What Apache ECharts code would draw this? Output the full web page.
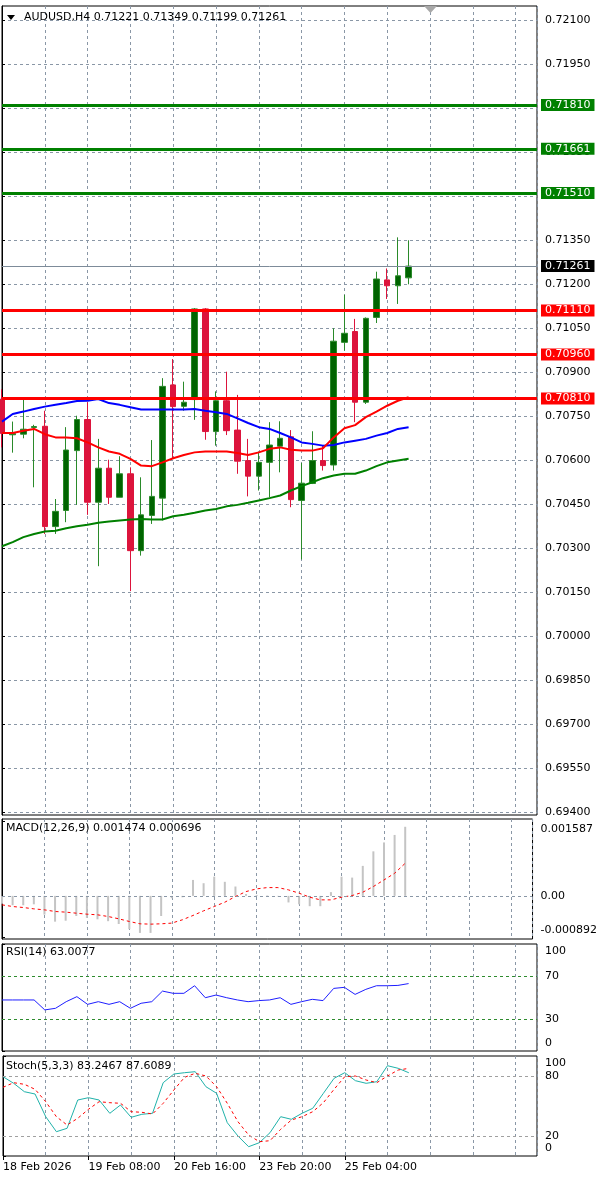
<!DOCTYPE html>
<html><head><meta charset="utf-8">
<script src="https://cdn.jsdelivr.net/npm/echarts@6/dist/echarts.min.js"></script>
<style>html,body{margin:0;padding:0;background:#fff}#c{width:600px;height:1181px}</style>
</head><body><div id="c"></div>
<script>
// ---------- data ----------
const symbolName = 'AUDUSD,H4';
const timeLabels = ['18 Feb 2026', '19 Feb 08:00', '20 Feb 16:00', '23 Feb 20:00', '25 Feb 04:00'];
const timeLabelBars = [0, 8, 16, 24, 32];

const opens  = [0.70807,0.70686,0.70688,0.70711,0.70715,0.70373,0.70428,0.70632,0.70738,0.70456,0.70572,0.70473,0.70553,0.70291,0.70411,0.70470,0.70856,0.70783,0.70806,0.71115,0.70697,0.70802,0.70702,0.70598,0.70545,0.70592,0.70647,0.70679,0.70462,0.70520,0.70598,0.70583,0.71001,0.71038,0.70797,0.71086,0.71214,0.71194,0.71221];
const highs  = [0.70841,0.70731,0.70805,0.70720,0.70768,0.70467,0.70712,0.70751,0.70797,0.70672,0.70601,0.70613,0.70575,0.70541,0.70668,0.70879,0.70944,0.70867,0.71118,0.71118,0.70834,0.70901,0.70822,0.70672,0.70629,0.70729,0.70732,0.70702,0.70590,0.70698,0.70649,0.71049,0.71163,0.71081,0.71086,0.71242,0.71253,0.71359,0.71349];
const lows   = [0.70643,0.70625,0.70674,0.70507,0.70348,0.70348,0.70388,0.70447,0.70413,0.70238,0.70450,0.70473,0.70153,0.70274,0.70382,0.70394,0.70604,0.70768,0.70737,0.70669,0.70649,0.70685,0.70553,0.70476,0.70496,0.70473,0.70558,0.70439,0.70261,0.70518,0.70564,0.70564,0.70973,0.70729,0.70791,0.71067,0.71149,0.71132,0.71199];
const closes = [0.70691,0.70690,0.70705,0.70714,0.70373,0.70425,0.70634,0.70738,0.70456,0.70572,0.70473,0.70553,0.70291,0.70413,0.70476,0.70851,0.70782,0.70797,0.71115,0.70697,0.70802,0.70700,0.70596,0.70545,0.70592,0.70651,0.70674,0.70465,0.70521,0.70598,0.70581,0.71005,0.71032,0.70797,0.71083,0.71217,0.71194,0.71228,0.71261];

const maRed   = [0.70692,0.70692,0.70700,0.70706,0.70688,0.70677,0.70677,0.70674,0.70660,0.70643,0.70629,0.70621,0.70604,0.70581,0.70579,0.70592,0.70606,0.70617,0.70626,0.70629,0.70629,0.70629,0.70624,0.70617,0.70626,0.70638,0.70643,0.70635,0.70632,0.70632,0.70640,0.70677,0.70708,0.70719,0.70746,0.70765,0.70785,0.70802,0.70814];
const maBlue  = [0.70731,0.70757,0.70765,0.70774,0.70782,0.70788,0.70794,0.70801,0.70802,0.70808,0.70794,0.70788,0.70780,0.70772,0.70772,0.70772,0.70772,0.70772,0.70774,0.70768,0.70763,0.70757,0.70742,0.70726,0.70712,0.70706,0.70692,0.70677,0.70660,0.70655,0.70649,0.70651,0.70660,0.70666,0.70672,0.70683,0.70692,0.70706,0.70712];
const maGreen = [0.70306,0.70320,0.70337,0.70348,0.70356,0.70359,0.70367,0.70374,0.70379,0.70386,0.70390,0.70394,0.70397,0.70399,0.70397,0.70397,0.70408,0.70413,0.70420,0.70428,0.70433,0.70442,0.70447,0.70454,0.70462,0.70470,0.70479,0.70496,0.70511,0.70524,0.70538,0.70547,0.70553,0.70553,0.70564,0.70579,0.70592,0.70598,0.70604];

const resistanceLevels = [0.71810, 0.71661, 0.71510];
const supportLevels = [0.71110, 0.70960, 0.70810];
const currentPrice = 0.71261;
const priceTicks = [0.69400,0.69550,0.69700,0.69850,0.70000,0.70150,0.70300,0.70450,0.70600,0.70750,0.70900,0.71050,0.71200,0.71350,0.71500,0.71650,0.71800,0.71950,0.72100];

const macdHist   = [-0.00017,-0.00020,-0.00020,-0.00018,-0.00040,-0.00055,-0.00053,-0.00043,-0.00047,-0.00050,-0.00054,-0.00060,-0.00071,-0.00079,-0.00079,-0.00043,-0.00005,-0.00003,0.00034,0.00027,0.00041,0.00030,0.00020,0.00004,0.00002,0.00001,-0.00001,-0.00014,-0.00018,-0.00022,-0.00022,0.00008,0.00041,0.00039,0.00064,0.00095,0.00114,0.00130,0.001474];
const macdSignal = [-0.000191,-0.000227,-0.000248,-0.000277,-0.000298,-0.000333,-0.000347,-0.000369,-0.000390,-0.000404,-0.000440,-0.000489,-0.000546,-0.000596,-0.000603,-0.000596,-0.000581,-0.000510,-0.000418,-0.000319,-0.000227,-0.000135,-0.000014,0.000092,0.000149,0.000177,0.000177,0.000128,0.000057,-0.000028,-0.000085,-0.000085,-0.000028,0.000007,0.000078,0.000199,0.000340,0.000482,0.000696];
const macdTicks = [0.001587, 0, -0.000892];

const rsiValues = [47.7,47.7,47.7,47.7,38.4,39.9,46.1,50.8,43.6,46.1,43.6,46.1,39.9,44.6,46.1,56.0,53.9,53.9,61.0,49.8,52.3,49.8,47.7,46.1,47.1,47.7,49.8,43.6,46.1,48.3,47.1,58.5,59.5,52.9,57.6,61.0,61.0,61.3,63.0077];
const rsiLevels = [70, 30];
const rsiTicks = [100, 70, 30, 0];

const stochMain   = [79.3,72.7,64.3,62.0,39.3,24.3,27.7,56.0,58.3,56.0,42.7,51.0,38.7,41.7,42.7,73.3,82.0,83.3,84.3,69.3,62.7,33.3,20.0,9.3,13.3,23.3,39.3,36.7,42.7,47.7,62.7,77.7,83.3,75.3,72.7,74.3,90.3,87.7,83.2467];
const stochSignal = [68.7,73.3,71.7,66.7,54.3,39.3,31.0,37.7,46.7,54.3,53.3,52.7,44.3,43.7,42.0,52.7,66.0,78.7,82.7,80.0,69.3,52.7,34.3,21.0,14.3,15.3,26.7,36.0,39.3,44.3,53.3,66.7,79.3,80.0,76.0,73.3,80.0,86.0,87.6089];
const stochLevels = [80, 20];
const stochTicks = [100, 80, 20, 0];

// ---------- chart ----------
const FONT = 'DejaVu Sans';
const GRID_C = '#8a97a6';
const DASH = [3, 3];
const last = closes.length - 1;
const idx = a => a.map((v, i) => [i, v]);

const grids = [
  {top: 6, height: 809},
  {top: 819, height: 120},
  {top: 944, height: 107},
  {top: 1056, height: 100}
].map(g => Object.assign({left: 2, right: 63, show: true, borderColor: '#000', borderWidth: 1, backgroundColor: '#fff'}, g));

const xAxes = [0, 1, 2, 3].map(g => ({
  type: 'value', gridIndex: g, min: 0, max: 50, interval: 4,
  axisLine: {show: false}, axisTick: {show: false}, axisLabel: {show: false},
  splitLine: {show: true, lineStyle: {color: GRID_C, type: DASH, width: 1}}
}));
xAxes.push({
  type: 'value', gridIndex: 3, min: 0, max: 50, position: 'bottom',
  axisLine: {show: false},
  axisTick: {show: true, customValues: timeLabelBars, length: 4, lineStyle: {color: '#000'}},
  axisLabel: {show: true, customValues: timeLabelBars, align: 'left', margin: 6, color: '#000', fontFamily: FONT, fontSize: 11,
    formatter: v => timeLabels[timeLabelBars.indexOf(v)] || ''},
  splitLine: {show: false}
});

const rb = {fontSize: 11, fontFamily: FONT, color: '#000'};
const rich = {n: Object.assign({}, rb), dn: Object.assign({padding: [15, 0, 0, 0]}, rb), up: Object.assign({padding: [0, 0, 15, 0]}, rb)};
function subAxis(g, min, max, ticks, fmt) {
  const hi = Math.max.apply(null, ticks), lo = Math.min.apply(null, ticks);
  return {
    type: 'value', gridIndex: g, position: 'right', min: min, max: max,
    axisLine: {show: true, lineStyle: {color: '#000'}},
    axisTick: {show: true, customValues: ticks, length: 3, lineStyle: {color: '#000'}},
    axisLabel: {show: true, customValues: ticks, margin: 8, rich: rich,
      formatter: v => (v === hi ? '{dn|' : v === lo ? '{up|' : '{n|') + fmt(v) + '}'},
    splitLine: {show: false}
  };
}
const yAxes = [
  {
    type: 'value', gridIndex: 0, position: 'right', min: 0.693898, max: 0.721477,
    axisLine: {show: true, lineStyle: {color: '#000'}},
    axisTick: {show: true, customValues: priceTicks, length: 3, lineStyle: {color: '#000'}},
    axisLabel: {show: true, customValues: priceTicks, margin: 8, color: '#000', fontFamily: FONT, fontSize: 11, formatter: v => v.toFixed(5)},
    splitLine: {show: true, lineStyle: {color: GRID_C, type: DASH, width: 1}}
  },
  subAxis(1, -0.00092, 0.00164, macdTicks, v => v === 0 ? '0.00' : String(v)),
  subAxis(2, 0, 100, rsiTicks, v => String(v)),
  subAxis(3, 0, 100, stochTicks, v => String(v))
];

function levelLine(v, color, width, lineColor) {
  return {
    yAxis: v,
    lineStyle: {color: lineColor || color, width: width, type: 'solid'},
    label: {show: true, position: 'end', distance: 4, formatter: v.toFixed(5), color: '#fff', backgroundColor: color,
      padding: [1, 4, 0, 4], fontFamily: FONT, fontSize: 11}
  };
}
const levelData = [levelLine(currentPrice, '#000000', 1, '#7d8b99')]
  .concat(resistanceLevels.map(v => levelLine(v, '#008000', 3)))
  .concat(supportLevels.map(v => levelLine(v, '#ff0000', 3)));

function hLines(vals, color) {
  return {silent: true, symbol: 'none', animation: false, precision: 6, label: {show: false},
    lineStyle: {color: color, type: DASH, width: 1},
    data: vals.map(v => ({yAxis: v}))};
}

const candleData = opens.map((o, i) => [i, o, closes[i], lows[i], highs[i]]);

const series = [
  {
    type: 'candlestick', xAxisIndex: 0, yAxisIndex: 0, data: candleData,
    encode: {x: 0, y: [1, 2, 3, 4]}, barWidth: 6,
    itemStyle: {color: '#006400', color0: '#dc143c', borderColor: '#2a8a2a', borderColor0: '#dc143c', borderWidth: 1}
  },
  {type: 'line', xAxisIndex: 0, yAxisIndex: 0, data: idx(maGreen), showSymbol: false, lineStyle: {color: '#008000', width: 2}, z: 3},
  {type: 'line', xAxisIndex: 0, yAxisIndex: 0, data: idx(maBlue), showSymbol: false, lineStyle: {color: '#0000ff', width: 2}, z: 3},
  {type: 'line', xAxisIndex: 0, yAxisIndex: 0, data: idx(maRed), showSymbol: false, lineStyle: {color: '#ff0000', width: 2}, z: 3,
    clip: false,
    markLine: {silent: true, symbol: 'none', animation: false, precision: 6, data: levelData}},
  {type: 'bar', xAxisIndex: 1, yAxisIndex: 1, data: idx(macdHist), barWidth: 2, itemStyle: {color: '#c4c4c4'},
    markLine: hLines([0], GRID_C)},
  {type: 'line', xAxisIndex: 1, yAxisIndex: 1, data: idx(macdSignal), showSymbol: false, lineStyle: {color: '#ff0000', width: 1, type: [3, 3]}},
  {type: 'line', xAxisIndex: 2, yAxisIndex: 2, data: idx(rsiValues), showSymbol: false, lineStyle: {color: '#1e1eff', width: 1},
    markLine: hLines(rsiLevels, '#2e8b2e')},
  {type: 'line', xAxisIndex: 3, yAxisIndex: 3, data: idx(stochMain), showSymbol: false, lineStyle: {color: '#20b2aa', width: 1},
    markLine: hLines(stochLevels, '#a0a0a0')},
  {type: 'line', xAxisIndex: 3, yAxisIndex: 3, data: idx(stochSignal), showSymbol: false, lineStyle: {color: '#ff0000', width: 1, type: [3, 3]}}
];

const txt = (x, y, s, size) => ({type: 'text', left: x, top: y, z: 100, style: {text: s, fill: '#000', font: (size || 11) + 'px "' + FONT + '"'}});
const graphic = [
  {type: 'polygon', z: 100, shape: {points: [[424, 6], [437, 6], [430.5, 13]]}, style: {fill: '#a8a8a8'}},
  {type: 'polygon', z: 100, shape: {points: [[7, 15], [15, 15], [11, 20]]}, style: {fill: '#000'}},
  txt(24, 12, symbolName + ' ' + [opens[last], highs[last], lows[last], closes[last]].map(v => v.toFixed(5)).join(' ')),
  txt(6, 823, 'MACD(12,26,9) ' + macdHist[last].toFixed(6) + ' ' + macdSignal[last].toFixed(6)),
  txt(6, 947, 'RSI(14) ' + rsiValues[last].toFixed(4)),
  txt(6, 1061, 'Stoch(5,3,3) ' + stochMain[last].toFixed(4) + ' ' + stochSignal[last].toFixed(4))
];

const chart = echarts.init(document.getElementById('c'), null, {renderer: 'canvas'});
chart.setOption({
  animation: false,
  backgroundColor: '#fff',
  textStyle: {fontFamily: FONT},
  grid: grids, xAxis: xAxes, yAxis: yAxes, series: series, graphic: graphic
});
</script></body></html>
